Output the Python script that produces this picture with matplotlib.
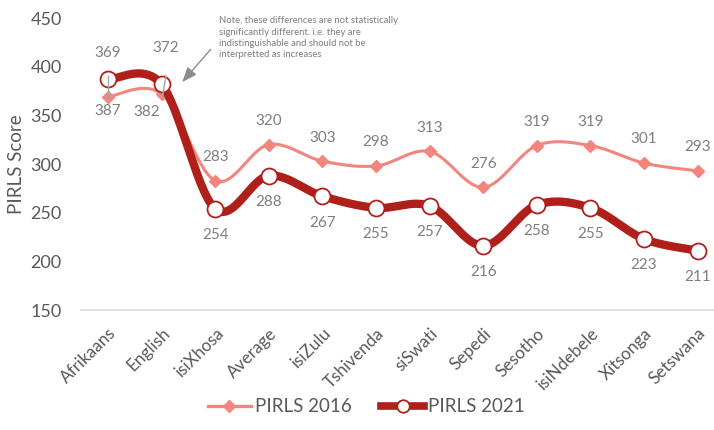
import matplotlib
matplotlib.use('Agg')
import matplotlib.pyplot as plt
import numpy as np

plt.rcParams['font.family'] = ['Lato', 'DejaVu Sans']

# data
languages = ['Afrikaans', 'English', 'isiXhosa', 'Average', 'isiZulu', 'Tshivenda',
             'siSwati', 'Sepedi', 'Sesotho', 'isiNdebele', 'Xitsonga', 'Setswana']
pirls_2016 = [369, 372, 283, 320, 303, 298, 313, 276, 319, 319, 301, 293]
pirls_2021 = [387, 382, 254, 288, 267, 255, 257, 216, 258, 255, 223, 211]
yticks = [150, 200, 250, 300, 350, 400, 450]

note = ('Note, these differences are not statistically\n'
        'significantly different. i.e. they are\n'
        'indistinguishable and should not be\n'
        'interpretted as increases')

c16 = '#F2867E'
c21 = '#B0201B'
grey_lbl = '#7F7F7F'
grey_tick = '#595959'


def smooth(y, n=30):
    #  excel-like smoothed line (catmull-rom bezier segments)
    x = np.arange(len(y), dtype=float)
    y = np.asarray(y, dtype=float)
    px = np.concatenate([[x[0]], x, [x[-1]]])
    py = np.concatenate([[y[0]], y, [y[-1]]])
    t = np.linspace(0, 1, n)[:, None]
    xs, ys = [], []
    for i in range(len(y) - 1):
        p0 = np.array([px[i + 1], py[i + 1]])
        p3 = np.array([px[i + 2], py[i + 2]])
        p1 = p0 + (p3 - np.array([px[i], py[i]])) / 6
        p2 = p3 - (np.array([px[i + 3], py[i + 3]]) - p0) / 6
        b = ((1 - t) ** 3) * p0 + 3 * ((1 - t) ** 2) * t * p1 + 3 * (1 - t) * t ** 2 * p2 + t ** 3 * p3
        xs.append(b[:, 0])
        ys.append(b[:, 1])
    return np.concatenate(xs), np.concatenate(ys)


fig = plt.figure(figsize=(7.14, 4.30), dpi=100)
ax = fig.add_axes([0.1137, 0.279, 0.8863, 0.679])

x = np.arange(len(languages))

sx, sy = smooth(pirls_2016)
ax.plot(sx, sy, color=c16, lw=2.2, solid_capstyle='round', zorder=2)
ax.plot(x, pirls_2016, ls='none', marker='D', ms=6.5, color=c16, zorder=3)

sx, sy = smooth(pirls_2021)
ax.plot(sx, sy, color=c21, lw=6, solid_capstyle='round', zorder=4)
ax.plot(x, pirls_2021, ls='none', marker='o', ms=11.5, mfc='white', mec=c21, mew=1.3, zorder=5)

# legend proxies
h16, = ax.plot([], [], color=c16, lw=2.4, marker='D', ms=6)
h21, = ax.plot([], [], color=c21, lw=5.5, marker='o', ms=9, mfc='white', mec=c21, mew=1.3)

#  data labels: 2016 above, 2021 below (first two moved by hand with leaders)
for i, v in enumerate(pirls_2016):
    if i < 2:
        continue
    ax.annotate(str(v), (i, v), xytext=(0, 17), textcoords='offset points',
                ha='center', va='center', fontsize=11, color=grey_lbl, zorder=6)
for i, v in enumerate(pirls_2021):
    if i < 2:
        continue
    ax.annotate(str(v), (i, v), xytext=(0, -19), textcoords='offset points',
                ha='center', va='center', fontsize=11, color=grey_lbl, zorder=6)

# hand-placed labels for Afrikaans and English
ax.annotate(str(pirls_2016[0]), (0, pirls_2021[0]), xytext=(0, 19), textcoords='offset points',
            ha='center', va='center', fontsize=11, color=grey_lbl)
ax.annotate(str(pirls_2021[0]), (0, pirls_2016[0]), xytext=(0, -10), textcoords='offset points',
            ha='center', va='center', fontsize=11, color=grey_lbl)
ax.annotate(str(pirls_2016[1]), (1, pirls_2021[1]), xytext=(3, 26), textcoords='offset points',
            ha='center', va='center', fontsize=11, color=grey_lbl)
ax.annotate(str(pirls_2021[1]), (1, pirls_2016[1]), xytext=(-11, -13), textcoords='offset points',
            ha='center', va='center', fontsize=11, color=grey_lbl)
ax.plot([0, 0], [pirls_2021[0] + 3, pirls_2016[0] - 1], color='#A6A6A6', lw=1, zorder=7)
ax.plot([1.08, 1.02], [pirls_2021[1] + 9, pirls_2016[1] - 2], color='#A6A6A6', lw=1, zorder=7)

# note and arrow
ax.text(2.07, 452, note, fontsize=6.8, color=grey_lbl, va='top', ha='left', linespacing=1.35)
ax.annotate('', xy=(1.35, 382), xytext=(1.95, 420),
            arrowprops=dict(arrowstyle='-|>,head_length=0.9,head_width=0.35',
                            color='#8C8C8C', lw=1))

ax.set_xlim(-0.5, 11.306)
ax.set_ylim(150, 450)
ax.set_yticks(yticks)
ax.set_xticks(x)
ax.set_xticklabels(languages, rotation=45, ha='right', rotation_mode='anchor',
                   fontsize=12.3, color=grey_tick)
ax.tick_params(axis='x', length=0, pad=11)
ax.tick_params(axis='y', length=0, pad=14, labelsize=13, labelcolor=grey_tick)
ax.set_ylabel('PIRLS Score', fontsize=13.5, color=grey_tick, labelpad=4)

for s in ['top', 'right', 'left']:
    ax.spines[s].set_visible(False)
ax.spines['bottom'].set_color('#D9D9D9')
ax.spines['bottom'].set_linewidth(1.2)

fig.legend([h16, h21], ['PIRLS 2016', 'PIRLS 2021'], loc='lower center',
           bbox_to_anchor=(0.513, -0.005), ncol=2, frameon=False, fontsize=13.5,
           handlelength=2.3, handletextpad=0.2, columnspacing=1.6, labelcolor=grey_tick)

fig.savefig('out.png', dpi=100)
